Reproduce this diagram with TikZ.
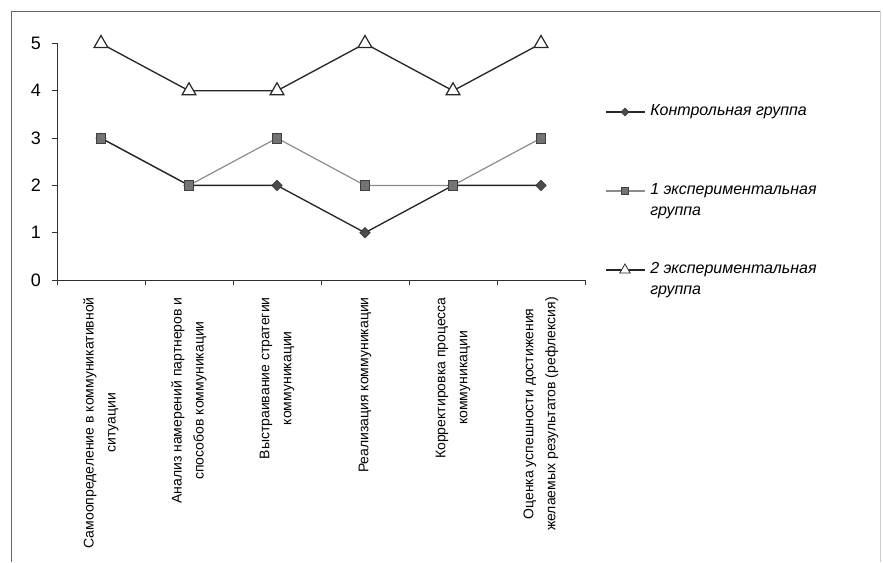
\documentclass[tikz,border=0pt]{standalone}
\usepackage{fontspec}
\setmainfont{Liberation Sans}
\usetikzlibrary{shapes.geometric}

\tikzset{
  ctrlline/.style={draw=black!85, line width=1pt},
  expaline/.style={draw=black!45, line width=0.9pt},
  expbline/.style={draw=black!85, line width=1pt},
  ctrlmark/.style={diamond, fill=black!70, draw=black!80, inner sep=0pt, minimum size=8pt},
  expamark/.style={rectangle, fill=black!55, draw=black!75, inner sep=0pt, minimum size=7pt},
  expbmark/.style={regular polygon, regular polygon sides=3, draw=black!85, fill=white, line width=0.9pt, inner sep=0pt, minimum size=12pt},
  catlabel/.style={rotate=90, anchor=east, align=center, inner sep=0pt, font=\fontsize{10.5}{16.5}\selectfont},
  legtext/.style={anchor=north west, align=left, inner sep=0pt, font=\fontsize{12}{15.75}\selectfont\itshape},
  axisline/.style={draw=black!80, line width=0.6pt}
}

\begin{document}
\begin{tikzpicture}[x=0.75pt, y=-0.75pt]
            \useasboundingbox (0,0) rectangle (883,562);
            \draw[black!60, line width=0.6pt] (11,562) -- (11,11) -- (880,11);
            \draw[black!20, line width=0.5pt] (880,11) -- (880,562);

            \coordinate (o) at (57,280);
            \coordinate (ytop) at (57,43);
            \coordinate (xend) at (585,280);
            \draw[axisline] (ytop) -- (o) -- (xend);
            \foreach \v in {0,...,5} {
                \draw[axisline] (52,{280-47.3*\v}) -- (57,{280-47.3*\v});
                \node (y\v) at (36,{280-47.3*\v}) {\fontsize{13.5}{15}\selectfont \v};
            }
            \foreach \i in {0,...,6}
                \draw[axisline] ({57+88*\i},280) -- ({57+88*\i},285);

            \foreach \v [count=\i] in {3,2,2,1,2,2}
                \coordinate (k\i) at ({101+88*(\i-1)},{280-47.3*\v});
            \foreach \v [count=\i] in {3,2,3,2,2,3}
                \coordinate (a\i) at ({101+88*(\i-1)},{280-47.3*\v});
            \foreach \v [count=\i] in {5,4,4,5,4,5}
                \coordinate (b\i) at ({101+88*(\i-1)},{280-47.3*\v});

            \draw[expaline] (a1) \foreach \i in {2,...,6} { -- (a\i) };
            \draw[ctrlline] (k1) \foreach \i in {2,...,6} { -- (k\i) };
            \draw[expbline] (b1) \foreach \i in {2,...,6} { -- (b\i) };
            \foreach \i in {1,...,6} {
                \node[ctrlmark] at (k\i) {};
                \node[expamark] at (a\i) {};
                \node[expbmark] at (b\i) {};
            }

            \node[catlabel] (c1) at (101,297) {Самоопределение в коммуникативной\\ситуации};
            \node[catlabel] (c2) at (189,297) {Анализ намерений партнеров и\\способов коммуникации};
            \node[catlabel] (c3) at (277,297) {Выстраивание стратегии\\коммуникации};
            \node[catlabel] (c4) at (365,297) {Реализация коммуникации};
            \node[catlabel] (c5) at (453,297) {Корректировка процесса\\коммуникации};
            \node[catlabel] (c6) at (541,297) {Оценка успешности достижения\\желаемых результатов (рефлексия)};

            \coordinate (lk1) at (606,112);
            \coordinate (lk2) at (645,112);
            \draw[ctrlline] (lk1) -- (lk2);
            \node[ctrlmark, minimum size=6pt] at (625,112) {};
            \node[legtext, anchor=west] (lk) at (650,112) {Контрольная группа};

            \coordinate (la1) at (606,191);
            \coordinate (la2) at (645,191);
            \draw[expaline] (la1) -- (la2);
            \node[expamark, minimum size=5pt] at (625,191) {};
            \node[legtext] (la) at (650,183) {1 экспериментальная\\группа};

            \coordinate (lb1) at (606,270);
            \coordinate (lb2) at (645,270);
            \draw[expbline] (lb1) -- (lb2);
            \node[expbmark, minimum size=9pt, line width=0.6pt] at (625,270) {};
            \node[legtext] (lb) at (650,262) {2 экспериментальная\\группа};
        \end{tikzpicture}
\end{document}
